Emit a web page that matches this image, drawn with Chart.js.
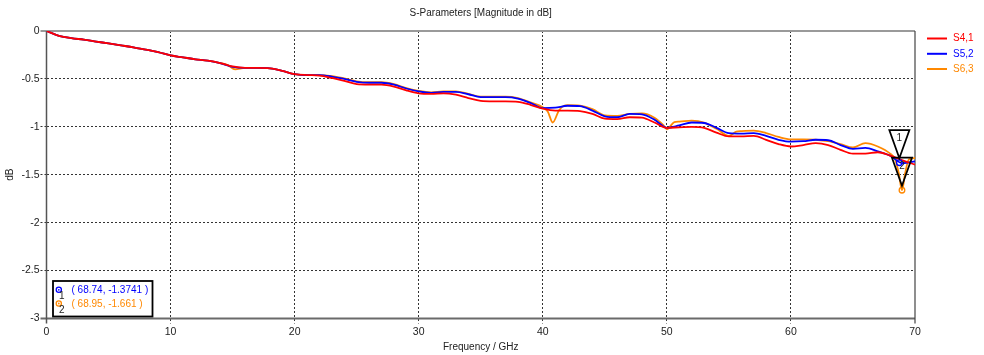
<!DOCTYPE html>
<html>
<head>
<meta charset="utf-8">
<script src="https://cdn.jsdelivr.net/npm/chart.js@4/dist/chart.umd.min.js"></script>
<style>
  html, body { margin: 0; padding: 0; background: #ffffff; }
  #wrap { width: 984px; height: 355px; }
</style>
</head>
<body>
<div id="wrap"><canvas id="c" width="984" height="355"></canvas></div>
<script>
// ---------- data ----------
const chartTitle = 'S-Parameters [Magnitude in dB]';
const xTitle = 'Frequency / GHz';
const yTitle = 'dB';
const seriesNames = ['S4,1', 'S5,2', 'S6,3'];

const freqGHz = [0,1,2,3,4,5,6,7,8,9,10,11,12,13,14,15,16,17,18,19,20,21,22,23,24,25,26,27,28,29,30,
  31,32,33,34,35,36,37,38,39,40,41,42,43,44,45,46,47,48,49,50,51,52,53,54,55,56,57,58,59,60,
  61,62,63,64,65,66,67,68,69,70];

const s41 = [0,-0.05,-0.075,-0.09,-0.11,-0.13,-0.15,-0.17,-0.195,-0.22,-0.255,-0.275,-0.295,-0.31,-0.335,-0.37,
  -0.385,-0.385,-0.39,-0.415,-0.45,-0.46,-0.465,-0.49,-0.52,-0.555,-0.56,-0.56,-0.58,-0.62,-0.65,
  -0.656,-0.65,-0.665,-0.70,-0.73,-0.735,-0.735,-0.74,-0.77,-0.81,-0.83,-0.83,-0.835,-0.865,-0.915,
  -0.92,-0.90,-0.905,-0.955,-1.01,-1.005,-1.0,-1.01,-1.06,-1.10,-1.10,-1.095,-1.135,-1.18,-1.205,
  -1.19,-1.17,-1.19,-1.24,-1.28,-1.28,-1.265,-1.30,-1.35,-1.395];

const s52 = [0,-0.05,-0.075,-0.09,-0.11,-0.13,-0.15,-0.17,-0.195,-0.22,-0.255,-0.275,-0.295,-0.31,-0.335,-0.375,
  -0.385,-0.385,-0.39,-0.415,-0.45,-0.46,-0.46,-0.475,-0.50,-0.53,-0.54,-0.54,-0.56,-0.60,-0.63,
  -0.645,-0.635,-0.635,-0.66,-0.69,-0.69,-0.69,-0.705,-0.75,-0.805,-0.80,-0.78,-0.785,-0.83,-0.89,
  -0.90,-0.865,-0.87,-0.925,-1.01,-0.985,-0.955,-0.96,-1.01,-1.065,-1.07,-1.065,-1.095,-1.135,-1.155,
  -1.15,-1.135,-1.14,-1.19,-1.23,-1.22,-1.255,-1.30,-1.38,-1.36];

const freqS63 = [0,1,2,3,4,5,6,7,8,9,10,11,12,13,14,14.6,15.2,16,17,18,19,20,21,22,23,24,25,26,27,28,29,30,
  31,32,33,34,35,36,37,38,39,40,40.4,40.8,41.3,41.7,42,43,44,45,46,47,48,49,49.7,50,50.6,51,52,53,54,55,55.6,
  56,57,58,59,60,61,62,63,64,65,66,67,68,68.4,68.7,68.95,69.2,69.5,70];

const s63 = [0,-0.05,-0.075,-0.09,-0.11,-0.13,-0.15,-0.17,-0.195,-0.22,-0.255,-0.275,-0.295,-0.31,-0.335,-0.355,-0.40,
  -0.385,-0.385,-0.39,-0.415,-0.45,-0.46,-0.46,-0.47,-0.495,-0.525,-0.535,-0.535,-0.555,-0.595,-0.625,
  -0.64,-0.63,-0.63,-0.655,-0.685,-0.685,-0.685,-0.70,-0.745,-0.795,-0.84,-0.955,-0.83,-0.78,-0.775,-0.78,-0.815,-0.88,
  -0.885,-0.865,-0.86,-0.905,-0.98,-1.025,-0.95,-0.945,-0.935,-0.955,-1.02,-1.095,-1.05,
  -1.045,-1.04,-1.065,-1.105,-1.13,-1.13,-1.135,-1.15,-1.18,-1.215,-1.17,-1.205,-1.28,-1.34,-1.49,-1.661,-1.49,-1.34,-1.325];

const markerIds = ['1', '2'];
const markerSeries = [1, 2];          // index into datasets (S5,2 and S6,3)
const markerFreq = [68.74, 68.95];
const markerDb = [-1.3741, -1.661];
const markerText = ['( 68.74, -1.3741 )', '( 68.95, -1.661 )'];

const colors = ['#ff0000', '#0000ff', '#ff8800'];
const FONT = "'Liberation Sans', Arial, sans-serif";

function pts(xs, ys) { return xs.map((x, i) => ({ x: x, y: ys[i] })); }

// ---------- custom drawing: frame, legend, markers ----------
const framePlugin = {
  id: 'frame',
  beforeDatasetsDraw(chart) {
    const { ctx, chartArea: a } = chart;
    ctx.save();
    ctx.setLineDash([]);
    ctx.lineCap = 'butt';
    ctx.strokeStyle = '#9a9a9a'; ctx.lineWidth = 2;
    ctx.beginPath(); ctx.moveTo(a.left - 6, a.top); ctx.lineTo(a.right, a.top); ctx.stroke();
    ctx.strokeStyle = '#6a6a6a'; ctx.lineWidth = 2;
    ctx.beginPath(); ctx.moveTo(a.left - 6, a.bottom); ctx.lineTo(a.right, a.bottom); ctx.stroke();
    ctx.strokeStyle = '#555555'; ctx.lineWidth = 1.5;
    ctx.beginPath(); ctx.moveTo(a.left, a.top); ctx.lineTo(a.left, a.bottom + 5); ctx.stroke();
    ctx.strokeStyle = '#444444'; ctx.lineWidth = 1.2;
    ctx.beginPath(); ctx.moveTo(a.right, a.top); ctx.lineTo(a.right, a.bottom + 5); ctx.stroke();
    ctx.restore();
  },
  afterDraw(chart) {
    const { ctx } = chart;
    const xs = chart.scales.x, ys = chart.scales.y;
    ctx.save();
    // legend
    ctx.font = '10px ' + FONT;
    ctx.textBaseline = 'middle';
    ctx.textAlign = 'left';
    const legendY = [38.5, 53.8, 69];
    seriesNames.forEach((n, i) => {
      ctx.strokeStyle = colors[i]; ctx.lineWidth = 2;
      ctx.beginPath(); ctx.moveTo(927, legendY[i]); ctx.lineTo(947, legendY[i]); ctx.stroke();
      ctx.fillStyle = colors[i];
      ctx.fillText(n, 953, legendY[i]);
    });
    // marker circles and triangles
    markerFreq.forEach((f, i) => {
      const px = xs.getPixelForValue(f), py = ys.getPixelForValue(markerDb[i]);
      const c = colors[markerSeries[i]];
      ctx.strokeStyle = c; ctx.lineWidth = 1.3;
      ctx.beginPath(); ctx.arc(px, py, 2.8, 0, Math.PI * 2); ctx.stroke();
      const apexY = py - 4.5, topY = apexY - 28, hw = 10;
      ctx.strokeStyle = '#000'; ctx.lineWidth = 1.8; ctx.lineJoin = 'miter';
      ctx.beginPath();
      ctx.moveTo(px - hw, topY); ctx.lineTo(px + hw, topY); ctx.lineTo(px, apexY); ctx.closePath();
      ctx.stroke();
      ctx.fillStyle = '#222';
      ctx.font = '10px ' + FONT;
      ctx.textAlign = 'center';
      ctx.fillText(markerIds[i], px, topY + 8.5);
    });
    // marker info box
    const bx = 53, by = 281, bw = 99.5, bh = 35.5;
    ctx.strokeStyle = '#000'; ctx.lineWidth = 1.8;
    ctx.strokeRect(bx, by, bw, bh);
    const rowY = [289.8, 303.5];
    markerText.forEach((t, i) => {
      const c = colors[markerSeries[i]];
      ctx.strokeStyle = c; ctx.lineWidth = 1.3;
      ctx.beginPath(); ctx.arc(58.8, rowY[i], 2.6, 0, Math.PI * 2); ctx.stroke();
      ctx.fillStyle = c;
      ctx.beginPath(); ctx.arc(58.8, rowY[i], 0.9, 0, Math.PI * 2); ctx.fill();
      ctx.font = '10px ' + FONT;
      ctx.textAlign = 'left';
      ctx.fillText(t, 71.5, rowY[i] + 0.5);
      ctx.fillStyle = '#222';
      ctx.fillText(markerIds[i], 59, rowY[i] + 6.5);
    });
    ctx.restore();
  }
};

const gridColorX = (c) => (c.tick && (c.tick.value === 0 || c.tick.value === 70)) ? 'rgba(0,0,0,0)' : '#333333';
const gridColorY = (c) => (c.tick && (c.tick.value === 0 || c.tick.value === -3)) ? 'rgba(0,0,0,0)' : '#333333';
const fmt = (v) => String(Math.round(v * 100) / 100);

new Chart(document.getElementById('c'), {
  type: 'line',
  data: {
    datasets: [
      { label: seriesNames[0], data: pts(freqGHz, s41), borderColor: colors[0] },
      { label: seriesNames[1], data: pts(freqGHz, s52), borderColor: colors[1] },
      { label: seriesNames[2], data: pts(freqS63, s63), borderColor: colors[2] }
    ]
  },
  options: {
    responsive: false,
    animation: false,
    devicePixelRatio: 1,
    elements: {
      line: { borderWidth: 1.8, cubicInterpolationMode: 'monotone', fill: false },
      point: { radius: 0, hoverRadius: 0 }
    },
    layout: { padding: { left: 0, right: 69, top: 0, bottom: 0 } },
    plugins: {
      legend: { display: false },
      tooltip: { enabled: false },
      title: {
        display: true, text: chartTitle, color: '#222', fullSize: false,
        font: { family: FONT, size: 10, weight: 'normal' },
        padding: { top: 6.8, bottom: 12.2 }
      }
    },
    scales: {
      x: {
        type: 'linear', min: 0, max: 70,
        afterFit: (s) => { s.height = 36.5; },
        ticks: { stepSize: 10, color: '#222', font: { family: FONT, size: 10.5 }, padding: 2, maxRotation: 0, callback: fmt },
        grid: { color: gridColorX, lineWidth: 1, drawTicks: true, tickLength: 5, tickBorderDash: [2, 2] },
        border: { display: false, dash: [2, 2] },
        title: { display: true, text: xTitle, color: '#222', font: { family: FONT, size: 10 }, padding: { top: 0, bottom: 1.5 } }
      },
      y: {
        type: 'linear', min: -3, max: 0,
        afterFit: (s) => { s.width = 46.5; },
        ticks: { stepSize: 0.5, color: '#222', font: { family: FONT, size: 10.5 }, padding: 1, callback: fmt },
        grid: { color: gridColorY, lineWidth: 1, drawTicks: true, tickLength: 6, tickBorderDash: [2, 2] },
        border: { display: false, dash: [2, 2] },
        title: { display: true, text: yTitle, color: '#222', font: { family: FONT, size: 10 }, padding: { top: 4, bottom: 0 } }
      }
    }
  },
  plugins: [framePlugin]
});
</script>
</body>
</html>
